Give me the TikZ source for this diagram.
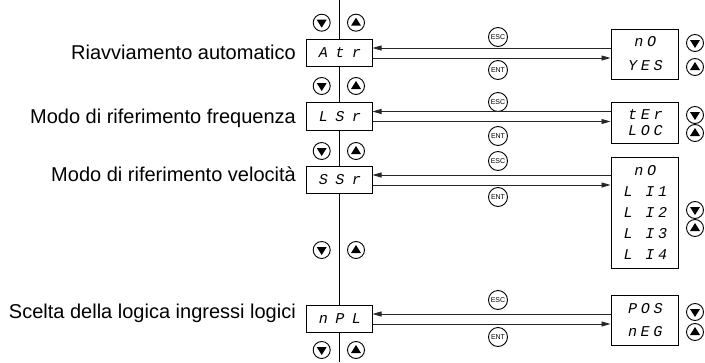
\documentclass[tikz,border=0pt]{standalone}
\usepackage{fontspec}
\setmainfont{Liberation Sans}
\newfontfamily\segfont[FakeSlant=0.2,LetterSpace=50]{Liberation Mono}
\newfontfamily\segwide[FakeSlant=0.2,LetterSpace=25]{Liberation Mono}
\usetikzlibrary{arrows.meta, positioning}

\begin{document}
\begin{tikzpicture}[
    x=1pt, y=-1pt,
    >=Triangle,
    menubox/.style={
        draw=black, line width=1pt, fill=white,
        minimum width=66pt, minimum height=27.5pt, inner sep=0pt,
        font=\fontsize{15}{15}\segfont
    },
    optbox/.style={
        draw=black, line width=1pt, fill=white,
        minimum width=67pt, inner sep=0pt, align=center
    },
    title/.style={
        anchor=east, inner sep=0pt,
        font=\fontsize{20}{24}\selectfont
    },
    keybtn/.style={
        circle, draw=black, line width=0.9pt, fill=white,
        minimum size=19pt, inner sep=0pt,
        font=\fontsize{7}{7}\selectfont
    },
    downbtn/.style={
        circle, draw=black, line width=0.9pt, fill=white,
        minimum size=17pt, inner sep=0pt,
        path picture={\fill[black] ([shift={(-5pt,3pt)}]path picture bounding box.center)
            -- ([shift={(5pt,3pt)}]path picture bounding box.center)
            -- ([shift={(0pt,-5pt)}]path picture bounding box.center) -- cycle;}
    },
    upbtn/.style={
        circle, draw=black, line width=0.9pt, fill=white,
        minimum size=17pt, inner sep=0pt,
        path picture={\fill[black] ([shift={(-5pt,-3pt)}]path picture bounding box.center)
            -- ([shift={(5pt,-3pt)}]path picture bounding box.center)
            -- ([shift={(0pt,5pt)}]path picture bounding box.center) -- cycle;}
    },
    arr/.style={-{Triangle[length=9pt,width=5pt]}, line width=0.8pt, black!85},
]
\useasboundingbox (0,0) rectangle (705,362);

%% menu spine
\coordinate (top) at (339,0);
\coordinate (bot) at (339,362);
\draw[line width=0.8pt] (top) -- (bot);

%% scroll keys on the spine
\node[downbtn] (d0) at (321.7,22.7) {};
\node[upbtn]   (u0) at (356,22.7) {};
\node[downbtn] (d1) at (321.7,86) {};
\node[upbtn]   (u1) at (356,86) {};
\node[downbtn] (d2) at (321.7,151) {};
\node[upbtn]   (u2) at (356,151) {};
\node[downbtn] (d3) at (321.7,250) {};
\node[upbtn]   (u3) at (356,250) {};
\node[downbtn] (d4) at (321.7,350) {};
\node[upbtn]   (u4) at (356,350) {};

%% Riavviamento automatico
\node[title] (t1) at (296,52) {Riavviamento automatico};
\node[menubox] (atr) at (339,53) {Atr};
\node[optbox, minimum height=50pt, font=\fontsize{15}{24}\segwide] (atrset) at (644.5,54)
    {nO\\YES};
\node[keybtn] (esc1) at (498,37) {ESC};
\node[keybtn] (ent1) at (498,70) {ENT};
\coordinate (atrN) at ([yshift=5pt]atr.east);
\coordinate (atrS) at ([yshift=-5pt]atr.east);
\draw[arr] (atrN -| atrset.west) -- (atrN);
\draw[arr] (atrS) -- (atrS -| atrset.west);
\node[downbtn] (atrd) at (695,43) {};
\node[upbtn]   (atru) at (695,67) {};

%% Modo di riferimento frequenza
\node[title] (t2) at (296,118) {Modo di riferimento frequenza};
\node[menubox] (lsr) at (339,116.5) {LSr};
\node[optbox, minimum height=41pt, font=\fontsize{15}{15.5}\segwide] (lsrset) at (644.5,122.5)
    {tEr\\LOC};
\node[keybtn] (esc2) at (498,102) {ESC};
\node[keybtn] (ent2) at (498,136) {ENT};
\coordinate (lsrN) at ([yshift=5pt]lsr.east);
\coordinate (lsrS) at ([yshift=-5pt]lsr.east);
\draw[arr] (lsrN -| lsrset.west) -- (lsrN);
\draw[arr] (lsrS) -- (lsrS -| lsrset.west);
\node[downbtn] (lsrd) at (695,115) {};
\node[upbtn]   (lsru) at (695,133) {};

%% Modo di riferimento velocita
\node[title] (t3) at (296,174) {Modo di riferimento velocità};
\node[menubox] (ssr) at (339,180) {SSr};
\node[optbox, minimum height=111pt, font=\fontsize{15}{21.2}\segwide] (ssrset) at (644.5,212.5)
    {nO\\L I1\\L I2\\L I3\\L I4};
\node[keybtn] (esc3) at (498,161) {ESC};
\node[keybtn] (ent3) at (498,197) {ENT};
\coordinate (ssrN) at ([yshift=5pt]ssr.east);
\coordinate (ssrS) at ([yshift=-5pt]ssr.east);
\draw[arr] (ssrN -| ssrset.west) -- (ssrN);
\draw[arr] (ssrS) -- (ssrS -| ssrset.west);
\node[downbtn] (ssrd) at (695,210) {};
\node[upbtn]   (ssru) at (695,228) {};

%% Scelta della logica ingressi logici
\node[title] (t4) at (296,313) {Scelta della logica ingressi logici};
\node[menubox] (npl) at (339,319) {nPL};
\node[optbox, minimum height=50pt, font=\fontsize{15}{23}\segwide] (nplset) at (644.5,320)
    {POS\\nEG};
\node[keybtn] (esc4) at (498,300) {ESC};
\node[keybtn] (ent4) at (498,337) {ENT};
\coordinate (nplN) at ([yshift=5pt]npl.east);
\coordinate (nplS) at ([yshift=-5pt]npl.east);
\draw[arr] (nplN -| nplset.west) -- (nplN);
\draw[arr] (nplS) -- (nplS -| nplset.west);
\node[downbtn] (npld) at (695,312) {};
\node[upbtn]   (nplu) at (695,332) {};

\end{tikzpicture}
\end{document}
